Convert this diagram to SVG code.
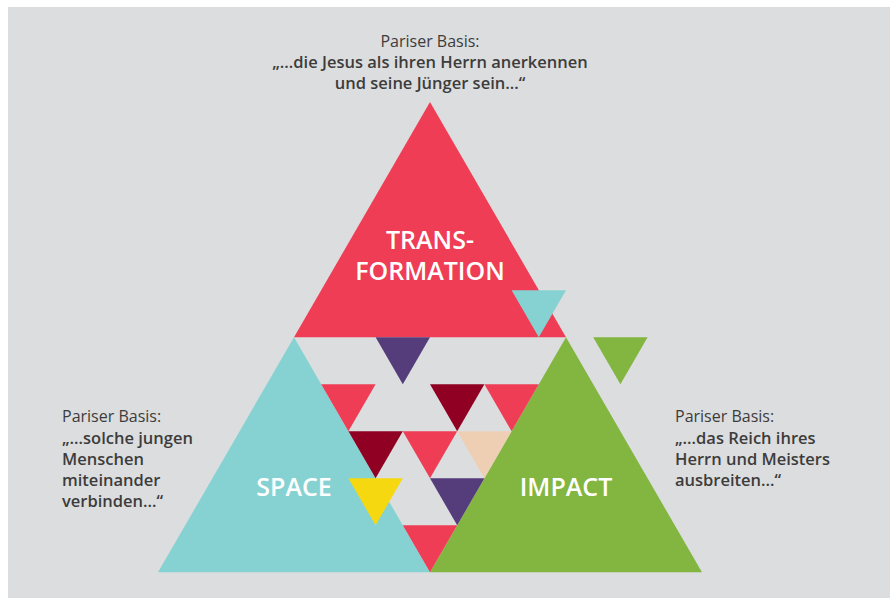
<svg xmlns="http://www.w3.org/2000/svg" width="890" height="598" viewBox="0 0 890 598">
<style>
.red{fill:#ef3d55}.cyan{fill:#86d2d3}.green{fill:#82b641}.purple{fill:#553c7b}.maroon{fill:#8f0022}.peach{fill:#efcfb4}.yellow{fill:#f5d80f}
.big{font-family:"Open Sans","Liberation Sans",sans-serif;font-size:25px;font-weight:600;fill:#ffffff;text-anchor:middle}
.lbl{font-family:"Open Sans","Liberation Sans",sans-serif;font-size:16px;fill:#3c3c3b}
.lbl .b{font-weight:600;font-size:16.5px}
</style>
<rect x="8" y="7" width="882" height="591" fill="#dcdddf"/>
<g id="transformation">
<polygon class="red" points="430,102 294,337.2 566,337.2"/>
<text class="big" x="430" y="249">TRANS-</text>
<text class="big" x="430" y="280">FORMATION</text>
</g>
<g id="space">
<polygon class="cyan" points="294,337.2 158,572.3 430,572.3"/>
</g>
<g id="impact">
<polygon class="green" points="566,337.2 430,572.3 702,572.3"/>
</g>
<g id="small-triangles">
<polygon class="purple" points="375.6,337.2 430,337.2 402.8,384.2"/>
<polygon class="red" points="321.2,384.2 375.6,384.2 348.4,431.2"/>
<polygon class="maroon" points="430,384.2 484.4,384.2 457.2,431.2"/>
<polygon class="red" points="484.4,384.2 538.8,384.2 511.6,431.2"/>
<polygon class="maroon" points="348.4,431.2 402.8,431.2 375.6,478.3"/>
<polygon class="red" points="402.8,431.2 457.2,431.2 430,478.3"/>
<polygon class="peach" points="457.2,431.2 511.6,431.2 484.4,478.3"/>
<polygon class="purple" points="430,478.3 484.4,478.3 457.2,525.3"/>
<polygon class="red" points="402.8,525.3 457.2,525.3 430,572.3"/>
<polygon class="cyan" points="511.6,290.2 566,290.2 538.8,337.2"/>
<polygon class="green" points="593.2,337.2 647.6,337.2 620.4,384.2"/>
<polygon class="yellow" points="348.4,478.3 402.8,478.3 375.6,525.3"/>
</g>
<g id="space-label"><text class="big" x="294" y="496">SPACE</text></g>
<g id="impact-label"><text class="big" x="566" y="496">IMPACT</text></g>
<g id="top-text" class="lbl" text-anchor="middle">
<text x="430" y="47">Pariser Basis:</text>
<text class="b" x="430" y="68">„…die Jesus als ihren Herrn anerkennen</text>
<text class="b" x="430" y="89">und seine Jünger sein…“</text>
</g>
<g id="left-text" class="lbl">
<text x="62" y="422">Pariser Basis:</text>
<text class="b" x="62" y="444">„…solche jungen</text>
<text class="b" x="62" y="465">Menschen</text>
<text class="b" x="62" y="486">miteinander</text>
<text class="b" x="62" y="507">verbinden…“</text>
</g>
<g id="right-text" class="lbl">
<text x="675" y="422">Pariser Basis:</text>
<text class="b" x="675" y="444">„…das Reich ihres</text>
<text class="b" x="675" y="465">Herrn und Meisters</text>
<text class="b" x="675" y="486">ausbreiten…“</text>
</g>
</svg>
